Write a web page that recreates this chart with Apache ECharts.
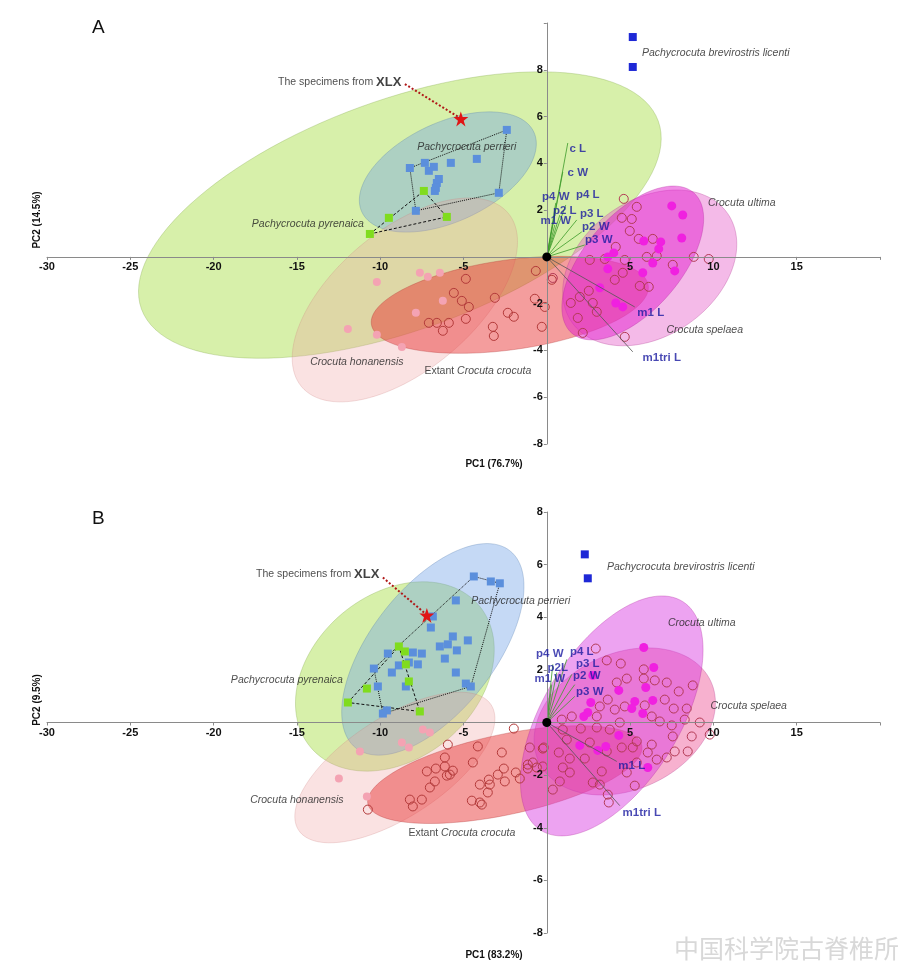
<!DOCTYPE html>
<html><head><meta charset="utf-8">
<script src="https://cdn.jsdelivr.net/npm/echarts@6/dist/echarts.min.js"></script>
<style>html,body{margin:0;padding:0;background:#fff}#c{width:911px;height:979px}</style>
</head><body><div id="c"></div>
<script>
// ---------------- Panel A data ----------------
const licentiA = [[5.16,9.40],[5.16,8.12]];
const perrieriA = [[-2.40,5.43],[-8.22,3.80],[-7.32,4.02],[-6.78,3.85],[-7.08,3.68],[-5.76,4.02],[-4.20,4.19],[-6.48,3.33],[-6.60,3.16],[-6.66,2.95],[-6.72,2.82],[-2.88,2.74],[-7.86,1.97]];
const perrieriHullA = [0,11,12,1,0];
const pyrenaicaA = [[-7.38,2.82],[-9.48,1.67],[-6.00,1.71],[-10.62,0.98]];
const pyrenaicaHullA = [3,0,2,3];
const starA = [[-5.16,5.90]];
const pointerA = [[-8.52,7.39],[-5.30,5.98]];
const honanensisA = [[-10.20,-1.07],[-7.62,-0.68],[-7.14,-0.85],[-6.42,-0.68],[-6.24,-1.88],[-7.86,-2.39],[-11.94,-3.08],[-10.20,-3.33],[-8.70,-3.85]];
const crocutaA = [[-4.86,-0.94],[-5.58,-1.54],[-5.10,-1.88],[-4.68,-2.14],[-4.86,-2.65],[-3.12,-1.75],[-2.34,-2.39],[-1.98,-2.56],[-3.24,-2.99],[-3.18,-3.38],[-6.24,-3.16],[-7.08,-2.82],[-6.60,-2.82],[-5.88,-2.82],[-0.66,-0.60],[0.30,-0.98],[-0.72,-1.79],[-0.30,-2.99],[-0.12,-2.14]];
const ultimaA = [[7.50,2.18],[8.16,1.79],[8.10,0.81],[5.82,0.68],[6.84,0.64],[6.72,0.34],[4.02,0.17],[3.66,0.00],[6.36,-0.26],[5.76,-0.68],[3.66,-0.51],[7.68,-0.60],[3.18,-1.32],[4.14,-1.97],[4.56,-2.14]];
const spelaeaA = [[4.62,2.48],[5.40,2.14],[4.50,1.67],[5.10,1.62],[4.98,1.11],[5.52,0.77],[6.36,0.77],[4.14,0.43],[2.58,-0.13],[3.48,-0.09],[4.68,-0.13],[6.00,0.00],[6.60,0.04],[7.56,-0.34],[8.82,0.00],[9.72,-0.09],[4.08,-0.98],[4.56,-0.68],[5.58,-1.24],[6.12,-1.28],[2.52,-1.45],[1.98,-1.71],[1.44,-1.97],[2.76,-1.97],[3.00,-2.35],[1.86,-2.61],[2.16,-3.25],[4.68,-3.42],[0.36,-0.90]];
// ellipse: [cx, cy, axis1 dx, axis1 dy, axis2 dx, axis2 dy]
const ellPyrenaicaA = [-8.82,1.79,15.51,4.02,2.36,-4.62];
const ellPerrieriA = [-5.94,3.63,5.16,1.71,1.26,-1.92];
const ellHonanensisA = [-8.52,-1.84,6.2,3.71,2.7,-2.29];
const ellCrocutaA = [-2.22,-2.05,8.31,0.83,0.38,-1.9];
const ellSpelaeaA = [6.18,-0.47,4.67,2.33,2.34,-2.38];
const ellUltimaA = [5.16,-0.26,3.66,3.0,2.17,-1.35];
const vecNamesA = ['c L','c W','p4 W','p4 L','p2 L','m1 W','p3 L','p2 W','p3 W','m1 L','m1tri L'];
const vecEndA = [[1.26,4.87],[0.96,3.63],[0.54,2.31],[1.14,2.22],[0.78,1.79],[0.48,1.37],[1.80,1.58],[2.10,1.07],[2.28,0.51],[5.28,-2.14],[5.16,-4.06]];
const vecLabelA = [[1.86,4.62],[1.86,3.59],[0.54,2.56],[2.46,2.65],[1.08,1.97],[0.54,1.54],[2.70,1.84],[2.94,1.28],[3.12,0.73],[6.24,-2.39],[6.90,-4.32]];
const speciesNames = ['{i|Pachycrocuta perrieri}','{i|Pachycrocuta pyrenaica}','{i|Crocuta honanensis}','Extant {i|Crocuta crocuta}','{i|Crocuta ultima}','{i|Crocuta spelaea}','{i|Pachycrocuta brevirostris licenti}'];
const speciesPosA = [[-4.80,4.70],[-14.34,1.41],[-11.40,-4.49],[-4.14,-4.87],[11.70,2.31],[9.48,-3.12],[10.14,8.72]];
const xlxPosA = [[-8.70,7.48]];

// ---------------- Panel B data ----------------
const licentiB = [[2.28,6.39],[2.46,5.48]];
const perrieriB = [[-4.38,5.55],[-3.36,5.36],[-2.82,5.29],[-5.46,4.64],[-6.84,4.03],[-6.96,3.61],[-5.64,3.27],[-4.74,3.12],[-6.42,2.89],[-5.94,2.97],[-5.40,2.74],[-6.12,2.43],[-7.50,2.62],[-8.04,2.66],[-7.74,2.21],[-8.28,2.28],[-8.88,2.17],[-9.30,1.90],[-9.54,2.62],[-10.38,2.05],[-10.14,1.37],[-8.46,1.37],[-5.46,1.90],[-4.86,1.48],[-4.56,1.37],[-9.60,0.46],[-9.84,0.34]];
const perrieriHullB = [0,2,24,26,19,0];
const pyrenaicaB = [[-8.88,2.89],[-8.52,2.70],[-8.46,2.21],[-8.28,1.56],[-10.80,1.29],[-11.94,0.76],[-7.62,0.42]];
const pyrenaicaHullB = [5,0,6,5];
const starB = [[-7.20,4.07]];
const pointerB = [[-9.84,5.51],[-7.35,4.17]];
const honanensisB = [[-7.44,-0.27],[-7.02,-0.38],[-8.70,-0.76],[-8.28,-0.95],[-11.22,-1.10],[-12.48,-2.13],[-10.80,-2.81]];
const crocutaB = [[-5.94,-0.84],[-4.14,-0.91],[-2.70,-1.14],[-4.44,-1.52],[-6.12,-1.33],[-6.12,-1.67],[-6.66,-1.75],[-7.20,-1.86],[-5.64,-1.83],[-5.82,-1.98],[-6.00,-2.02],[-6.72,-2.24],[-7.02,-2.47],[-7.50,-2.93],[-8.22,-2.93],[-8.04,-3.19],[-4.02,-2.36],[-3.48,-2.17],[-3.42,-2.36],[-2.94,-1.98],[-2.52,-2.24],[-2.58,-1.75],[-1.86,-1.90],[-1.62,-2.13],[-1.14,-1.60],[-1.14,-1.75],[-0.60,-1.71],[-0.24,-0.99],[-1.98,-0.23],[-4.02,-3.04],[-3.90,-3.12],[-4.50,-2.97],[-3.54,-2.66],[-10.74,-3.31]];
const ultimaB = [[5.82,2.85],[6.42,2.09],[5.94,1.33],[4.32,1.22],[5.28,0.80],[5.10,0.53],[6.36,0.84],[5.76,0.34],[2.64,0.76],[2.46,0.38],[2.22,0.23],[2.76,1.79],[4.32,-0.49],[1.98,-0.87],[3.54,-0.91],[3.06,-1.06],[6.06,-1.71]];
const spelaeaB = [[2.94,2.81],[3.60,2.36],[4.44,2.24],[5.82,2.02],[5.82,1.67],[4.80,1.67],[4.20,1.52],[6.48,1.60],[7.20,1.52],[7.92,1.18],[8.76,1.41],[7.08,0.87],[7.62,0.53],[8.40,0.53],[9.18,0.00],[9.78,-0.46],[8.28,0.11],[6.78,0.04],[6.30,0.23],[7.50,-0.11],[5.88,0.65],[3.66,0.87],[3.18,0.61],[4.08,0.49],[4.68,0.61],[3.00,0.23],[0.90,0.11],[1.50,0.23],[2.04,-0.23],[0.96,-0.27],[3.00,-0.19],[3.78,-0.27],[4.38,0.00],[5.40,-0.72],[6.30,-0.84],[5.16,-0.95],[4.50,-0.95],[3.60,-1.10],[2.58,-0.76],[1.20,-0.65],[0.72,-1.14],[1.38,-1.37],[2.28,-1.37],[1.38,-1.90],[3.30,-1.86],[3.18,-2.36],[3.66,-2.74],[2.76,-2.28],[0.78,-2.24],[0.96,-1.71],[0.36,-2.55],[7.68,-1.10],[7.56,-0.53],[8.70,-0.53],[8.46,-1.10],[7.20,-1.33],[6.60,-1.41],[6.06,-1.14],[5.40,-1.52],[4.80,-1.90],[3.72,-3.04],[5.28,-2.40],[-0.18,-0.95],[-0.24,-1.67],[-1.02,-0.95],[-0.84,-1.52]];
const ellPyrenaicaB = [-9.12,1.75,5.06,2.69,3.16,-2.39];
const ellPerrieriB = [-6.84,2.78,4.62,3.75,2.93,-1.45];
const ellHonanensisB = [-9.12,-1.71,5.78,2.38,1.63,-1.59];
const ellCrocutaB = [-2.52,-1.98,8.22,1.11,0.50,-1.49];
const ellSpelaeaB = [4.68,0.04,5.16,1.53,1.73,-2.34];
const ellUltimaB = [3.90,0.25,4.25,4.35,3.46,-1.37];
const vecNamesB = ['p4 W','p4 L','p2L','p3 L','m1 W','p2 W','p3 W','m1 L','m1tri L'];
const vecEndB = [[0.36,2.21],[1.20,2.40],[0.60,1.90],[1.50,1.83],[0.30,1.44],[1.68,1.44],[1.68,0.99],[4.20,-1.48],[4.38,-3.16]];
const vecLabelB = [[0.18,2.62],[2.10,2.70],[0.66,2.09],[2.46,2.24],[0.18,1.67],[2.40,1.79],[2.58,1.18],[5.10,-1.63],[5.70,-3.42]];
const speciesPosB = [[-1.56,4.60],[-15.6,1.60],[-15.0,-2.93],[-5.10,-4.22],[9.30,3.76],[12.12,0.61],[8.04,5.89]];
const xlxPosB = [[-10.02,5.63]];
const origin = [[0,0]];

// axis settings
const xMin = -30, xMax = 20, xStep = 5;
const yMinA = -8, yMaxA = 10, yMinB = -8, yMaxB = 8, yStep = 2;
const axisTitles = ['PC1 (76.7%)','PC2 (14.5%)','PC1 (83.2%)','PC2 (9.5%)'];

const FONT = '"Liberation Sans", Arial, sans-serif';
const C = {
  pyrenaica:'rgba(175,225,85,0.5)', perrieri:'rgba(110,160,230,0.4)', honanensis:'rgba(240,160,160,0.3)',
  crocuta:'rgba(232,50,50,0.48)', spelaea:'rgba(228,90,200,0.42)', ultima:'rgba(225,30,205,0.5)',
  spelaeaB:'rgba(235,70,140,0.42)', ultimaB:'rgba(215,50,225,0.45)'
};
const GRID = [{left:47, width:833, top:23, height:421}, {left:47, width:833, top:512, height:421}];
const YR = [[yMinA, yMaxA], [yMinB, yMaxB]];

function ell(e, fill, stroke, g) {
  return { type:'custom', xAxisIndex:g, yAxisIndex:g, silent:true, z:1, data:[e],
    encode:{x:0,y:1},
    renderItem:function(params, api){
      const cx=api.value(0), cy=api.value(1), ax=api.value(2), ay=api.value(3), bx=api.value(4), by=api.value(5);
      const pts=[];
      for(let k=0;k<120;k++){const t=k/120*Math.PI*2;
        pts.push(api.coord([cx+Math.cos(t)*ax+Math.sin(t)*bx, cy+Math.cos(t)*ay+Math.sin(t)*by]));}
      return {type:'polygon', shape:{points:pts}, style:{fill:fill, stroke:stroke, lineWidth:0.6}};
    }};
}
function sc(data, g, symbol, size, color, border, z) {
  return { type:'scatter', xAxisIndex:g, yAxisIndex:g, data:data, symbol:symbol, symbolSize:size, z:z||5, silent:true,
    itemStyle:{color:color, borderColor:border||color, borderWidth:border?1:0, opacity:1} };
}
function hull(points, idx, g, type) {
  return { type:'line', xAxisIndex:g, yAxisIndex:g, data:idx.map(i=>points[i]), symbol:'none', z:4, silent:true,
    lineStyle:{color:'#111', width:1, type:type} };
}
function vectors(ends, g, n, colTop, colBot) {
  return { type:'lines', coordinateSystem:'cartesian2d', xAxisIndex:g, yAxisIndex:g, z:6, silent:true,
    data: ends.map((e,i)=>({coords:[origin[0], e], lineStyle:{color: i < n ? colTop : colBot}})),
    lineStyle:{width:0.8, opacity:1} };
}
function vecLabels(pos, names, g) {
  return { type:'scatter', xAxisIndex:g, yAxisIndex:g, z:12, silent:true, symbolSize:1, itemStyle:{color:'rgba(0,0,0,0)'},
    data: pos.map((p,i)=>({value:p, name:names[i]})),
    label:{show:true, position:'inside', formatter:'{b}', color:'#1a1aa0', fontWeight:'bold', fontSize:11.5, fontFamily:FONT} };
}
function speciesLabels(pos, g) {
  return { type:'scatter', xAxisIndex:g, yAxisIndex:g, z:12, silent:true, symbolSize:1, itemStyle:{color:'rgba(0,0,0,0)'},
    data: pos.map((p,i)=>({value:p, name:speciesNames[i]})),
    label:{show:true, position:'inside', formatter:p=>p.name, color:'#222', fontSize:10.5, fontFamily:FONT,
      rich:{i:{fontStyle:'italic', fontSize:10.5, color:'#222', fontFamily:FONT}}} };
}
function xlx(pos, g) {
  return { type:'scatter', xAxisIndex:g, yAxisIndex:g, z:12, silent:true, symbolSize:1, itemStyle:{color:'rgba(0,0,0,0)'},
    data: pos, label:{show:true, position:'left', distance:0, formatter:'{n|The specimens from }{b|XLX}',
      rich:{n:{fontSize:10.5, color:'#222', fontFamily:FONT}, b:{fontSize:13, fontWeight:'bold', color:'#111', fontFamily:FONT}}} };
}
function pointer(p, g) {
  return { type:'lines', coordinateSystem:'cartesian2d', xAxisIndex:g, yAxisIndex:g, z:7, silent:true,
    data:[{coords:p}], lineStyle:{color:'#b01818', width:2, type:'dotted', opacity:1} };
}
const STAR = 'path://M12,0 L14.9,8.5 L24,8.5 L16.6,13.9 L19.4,22.5 L12,17.2 L4.6,22.5 L7.4,13.9 L0,8.5 L9.1,8.5 Z';

// axis lines placed through the origin (offset from the grid edge to the zero line)
function xAxis(g){
  const [mn, mx] = YR[g];
  const off = -GRID[g].height * (0 - mn) / (mx - mn);
  return { type:'value', gridIndex:g, min:xMin, max:xMax, interval:xStep, position:'bottom', offset:off, z:10,
  axisLine:{onZero:false, lineStyle:{color:'#8a8a8a', width:1}}, axisTick:{show:true, length:3, lineStyle:{color:'#8a8a8a'}},
  splitLine:{show:false}, axisLabel:{color:'#111', fontWeight:'bold', fontSize:11, fontFamily:FONT, margin:5,
  formatter:v=>(v===0||v===xMax)?'':String(v)} }; }
function yAxis(g){
  const [mn, mx] = YR[g];
  const off = -GRID[g].width * (0 - xMin) / (xMax - xMin);
  return { type:'value', gridIndex:g, min:mn, max:mx, interval:yStep, position:'left', offset:off, z:10,
  axisLine:{onZero:false, lineStyle:{color:'#8a8a8a', width:1}}, axisTick:{show:true, length:3, lineStyle:{color:'#8a8a8a'}},
  splitLine:{show:false}, axisLabel:{color:'#111', fontWeight:'bold', fontSize:11, fontFamily:FONT, margin:4,
  formatter:v=>(v===0||v===10)?'':String(v)} }; }

function panel(g, d) {
  return [
    ell(d.ePy, C.pyrenaica, 'rgba(120,160,60,0.5)', g),
    ell(d.ePe, C.perrieri, 'rgba(80,120,170,0.5)', g),
    ell(d.eHo, C.honanensis, 'rgba(200,120,120,0.4)', g),
    ell(d.eCr, C.crocuta, 'rgba(170,40,40,0.5)', g),
    ell(d.eSp, d.cSp, 'rgba(170,50,140,0.5)', g),
    ell(d.eUl, d.cUl, 'rgba(170,30,150,0.5)', g),
    hull(d.pe, d.peH, g, 'dotted'),
    hull(d.py, d.pyH, g, [3,2]),
    sc(d.ho, g, 'circle', 8, '#f4a3b3'),
    sc(d.cr, g, 'circle', 9, 'rgba(0,0,0,0)', '#b33a3a'),
    sc(d.sp, g, 'circle', 9, 'rgba(0,0,0,0)', '#b33a55'),
    sc(d.ul, g, 'circle', 9, '#f020e0'),
    sc(d.pe, g, 'rect', 8, '#5b8fdc'),
    sc(d.py, g, 'rect', 8, '#80dc1e'),
    sc(d.li, g, 'rect', 8, '#1e28d6'),
    vectors(d.vE, g, d.nTop, '#3c9b2a', '#555'),
    sc(origin, g, 'circle', 9, '#000', null, 11),
    vecLabels(d.vL, d.vN, g),
    speciesLabels(d.spPos, g),
    pointer(d.ptr, g),
    sc(d.star, g, STAR, 15, '#e01515', null, 11),
    xlx(d.xlx, g)
  ];
}

const series = [].concat(
  panel(0, {ePy:ellPyrenaicaA, ePe:ellPerrieriA, eHo:ellHonanensisA, eCr:ellCrocutaA, eSp:ellSpelaeaA, eUl:ellUltimaA,
    cSp:C.spelaea, cUl:C.ultima, pe:perrieriA, peH:perrieriHullA, py:pyrenaicaA, pyH:pyrenaicaHullA, ho:honanensisA,
    cr:crocutaA, sp:spelaeaA, ul:ultimaA, li:licentiA, vE:vecEndA, vL:vecLabelA, vN:vecNamesA, nTop:9,
    spPos:speciesPosA, ptr:pointerA, star:starA, xlx:xlxPosA}),
  panel(1, {ePy:ellPyrenaicaB, ePe:ellPerrieriB, eHo:ellHonanensisB, eCr:ellCrocutaB, eSp:ellSpelaeaB, eUl:ellUltimaB,
    cSp:C.spelaeaB, cUl:C.ultimaB, pe:perrieriB, peH:perrieriHullB, py:pyrenaicaB, pyH:pyrenaicaHullB, ho:honanensisB,
    cr:crocutaB, sp:spelaeaB, ul:ultimaB, li:licentiB, vE:vecEndB, vL:vecLabelB, vN:vecNamesB, nTop:7,
    spPos:speciesPosB, ptr:pointerB, star:starB, xlx:xlxPosB})
);

const chart = echarts.init(document.getElementById('c'), null, {renderer:'canvas'});
chart.setOption({
  animation:false, backgroundColor:'#fff',
  grid:GRID,
  xAxis:[xAxis(0), xAxis(1)],
  yAxis:[yAxis(0), yAxis(1)],
  series:series,
  graphic:[
    {type:'text', left:92, top:18, style:{text:'A', fontSize:19, fill:'#111', fontFamily:FONT}},
    {type:'text', left:92, top:509, style:{text:'B', fontSize:19, fill:'#111', fontFamily:FONT}},
    {type:'text', x:494, y:464, style:{text:axisTitles[0], fontSize:10, fontWeight:'bold', fill:'#111', fontFamily:FONT, align:'center', verticalAlign:'middle'}},
    {type:'text', x:37, y:220, rotation:Math.PI/2, style:{text:axisTitles[1], fontSize:10, fontWeight:'bold', fill:'#111', fontFamily:FONT, align:'center', verticalAlign:'middle'}},
    {type:'text', x:494, y:955, style:{text:axisTitles[2], fontSize:10, fontWeight:'bold', fill:'#111', fontFamily:FONT, align:'center', verticalAlign:'middle'}},
    {type:'text', x:37, y:700, rotation:Math.PI/2, style:{text:axisTitles[3], fontSize:10, fontWeight:'bold', fill:'#111', fontFamily:FONT, align:'center', verticalAlign:'middle'}},
    {type:'text', right:12, top:936, style:{text:'中国科学院古脊椎所', fontSize:25, fill:'rgba(200,200,200,0.7)', fontFamily:'"Noto Sans CJK SC", sans-serif', letterSpacing:3}}
  ]
});
</script></body></html>
